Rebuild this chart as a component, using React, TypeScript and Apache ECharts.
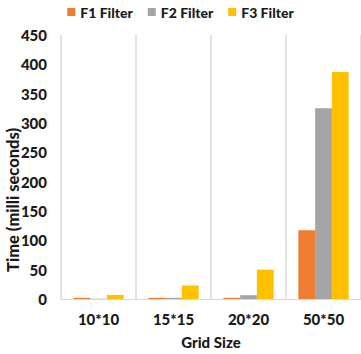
import React, { useEffect, useRef } from "react";
import * as echarts from "echarts";

const gridSizes = ["10*10", "15*15", "20*20", "50*50"];
const f1Filter = [2, 2, 2, 117];
const f2Filter = [0.5, 2, 6.5, 325];
const f3Filter = [7, 23, 50, 387];
const yTicks = { min: 0, max: 450, interval: 50 };

const FONT = "Lato, 'Open Sans', sans-serif";
const INK = "#1a1a1a";

export default function App() {
  const ref = useRef<HTMLDivElement>(null);

  useEffect(() => {
    if (!ref.current) return;
    const chart = echarts.init(ref.current, undefined, { renderer: "svg" });
    const bar = (name: string, data: number[], color: string) => ({
      name,
      type: "bar",
      data,
      itemStyle: { color },
      barGap: "0%",
      barCategoryGap: "33%",
    });
    const label = { fontFamily: FONT, fontWeight: 900, fontSize: 15, color: INK };
    chart.setOption({
      animation: false,
      textStyle: { fontFamily: FONT },
      legend: {
        top: 0,
        left: "center",
        itemWidth: 8,
        itemHeight: 8,
        itemGap: 15,
        icon: "rect",
        textStyle: { ...label, fontSize: 14 },
        data: ["F1 Filter", "F2 Filter", "F3 Filter"],
      },
      grid: { left: 61, right: 0, top: 35, bottom: 50 },
      graphic: [
        {
          type: "text",
          x: 13,
          y: 200,
          rotation: Math.PI / 2,
          style: {
            text: "Time (milli seconds)",
            fontFamily: FONT,
            fontWeight: 900,
            fontSize: 16.5,
            fill: INK,
            align: "center",
            verticalAlign: "middle",
          },
        },
      ],
      xAxis: {
        type: "category",
        data: gridSizes,
        name: "Grid Size",
        nameLocation: "middle",
        nameGap: 35,
        nameTextStyle: { ...label },
        axisLine: { show: true, lineStyle: { color: "#d9d9d9", width: 1 } },
        axisTick: { show: false },
        axisLabel: { ...label, margin: 12 },
        splitLine: { show: true, interval: 0, lineStyle: { color: "#d9d9d9", width: 1.5 } },
      },
      yAxis: {
        type: "value",
        min: yTicks.min,
        max: yTicks.max,
        interval: yTicks.interval,
        axisLine: { show: false },
        axisTick: { show: false },
        splitLine: { show: false },
        axisLabel: { ...label, margin: 14 },
      },
      series: [
        bar("F1 Filter", f1Filter, "#ED7D31"),
        bar("F2 Filter", f2Filter, "#A5A5A5"),
        bar("F3 Filter", f3Filter, "#FFC000"),
      ],
    });
    return () => chart.dispose();
  }, []);

  return <div ref={ref} style={{ width: 361, height: 354, position: "absolute", left: 0, top: 0 }} />;
}
